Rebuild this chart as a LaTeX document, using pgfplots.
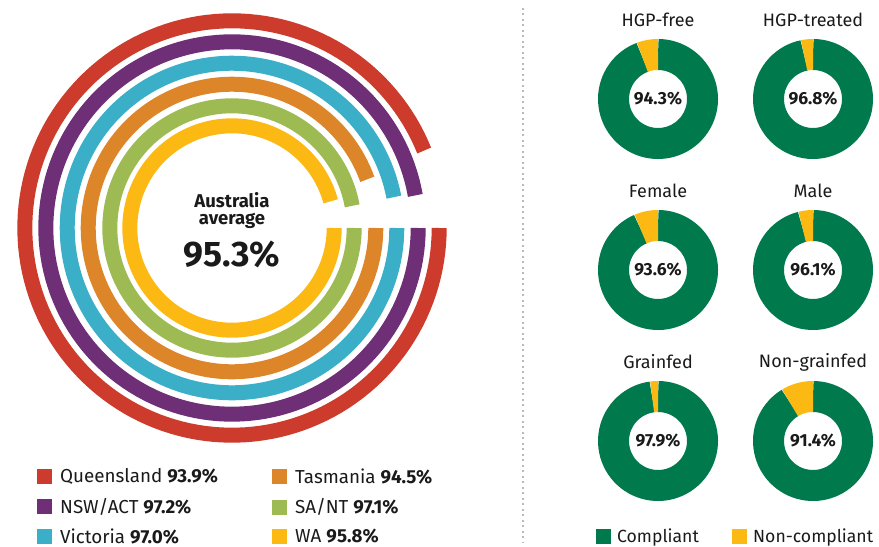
\documentclass[border=0pt]{standalone}
\usepackage{fontspec}
\setmainfont{Fira Sans}
\usepackage{pgfplots}
\pgfplotsset{compat=1.18}
\definecolor{qred}{HTML}{CC3B2B}
\definecolor{qpurple}{HTML}{6E2F77}
\definecolor{qcyan}{HTML}{3BAFC8}
\definecolor{qorange}{HTML}{DD8629}
\definecolor{qgreen}{HTML}{9DBB52}
\definecolor{qyellow}{HTML}{FDB913}
\definecolor{cgreen}{HTML}{007A4D}
\definecolor{txt}{HTML}{1A1A1A}
\pgfplotsset{
  base/.style={width=879bp,height=547bp,scale only axis,
    xmin=0,xmax=879,ymin=0,ymax=547,y dir=reverse,hide axis,clip=false,
    at={(0,0)},anchor=south west},
  sqlegend/.style={
    legend image code/.code={\fill[##1,draw=none] (0bp,-7.5bp) rectangle (15bp,7.5bp);},
    legend cell align=left,
    legend style={draw=none,fill=none,inner sep=0pt,text=txt,
      font=\fontsize{18.8bp}{20bp}\selectfont,row sep=14bp,
      nodes={inner sep=0pt},
      /tikz/every odd column/.append style={column sep=8bp}}},
  ring/.style={no markers,line width=15bp,samples=150},
  donut/.style={no markers,line width=31bp,samples=80},
}
\begin{document}
\begin{tikzpicture}
% ---------- left: states (column 1 of legend)
\begin{axis}[base,name=A,sqlegend,
  legend style={at={(axis cs:37,506.5)},anchor=west}]
\addplot[ring,color=qred,domain=0:93.9*3.6] ({232+207.2*cos(x)},{228+207.2*sin(x)});
\addlegendentry{Queensland \textbf{93.9\%}}
\addplot[ring,color=qpurple,domain=0:97.2*3.6] ({232+186.2*cos(x)},{228+186.2*sin(x)});
\addlegendentry{NSW/ACT \textbf{97.2\%}}
\addplot[ring,color=qcyan,domain=0:97.0*3.6] ({232+164.8*cos(x)},{228+164.8*sin(x)});
\addlegendentry{Victoria \textbf{97.0\%}}
\node[text=txt,font=\fontsize{18.5bp}{20bp}\selectfont\bfseries] at (axis cs:232,200) {Australia};
\node[text=txt,font=\fontsize{18.5bp}{20bp}\selectfont\bfseries] at (axis cs:232,221) {average};
\node[text=txt,font=\fontsize{35.5bp}{38bp}\selectfont\bfseries] at (axis cs:232,254) {95.3\%};
\end{axis}
% ---------- left: states (column 2 of legend)
\begin{axis}[base,sqlegend,
  legend style={at={(axis cs:272,506.5)},anchor=west}]
\addplot[ring,color=qorange,domain=0:94.5*3.6] ({232+143.8*cos(x)},{228+143.8*sin(x)});
\addlegendentry{Tasmania \textbf{94.5\%}}
\addplot[ring,color=qgreen,domain=0:97.1*3.6] ({232+122.2*cos(x)},{228+122.2*sin(x)});
\addlegendentry{SA/NT \textbf{97.1\%}}
\addplot[ring,color=qyellow,domain=0:95.8*3.6] ({232+102.2*cos(x)},{228+102.2*sin(x)});
\addlegendentry{WA \textbf{95.8\%}}
\end{axis}
% ---------- right: compliant
\begin{axis}[base,sqlegend,
  legend style={at={(axis cs:596,536.5)},anchor=west,
    font=\fontsize{17.6bp}{19bp}\selectfont,
    /tikz/every odd column/.append style={column sep=6bp}}]
\addplot[gray!55,line width=2bp,dash pattern=on 2bp off 3.5bp,forget plot] coordinates {(523,8) (523,543)};
\addplot[donut,color=cgreen,domain=-90:270-(100-94.3)*3.6] ({658+44.5*cos(x)},{99+44.5*sin(x)});
\addlegendentry{Compliant}
\addplot[donut,color=cgreen,domain=-90:270-(100-96.8)*3.6,forget plot] ({813+44.5*cos(x)},{99+44.5*sin(x)});
\addplot[donut,color=cgreen,domain=-90:270-(100-93.6)*3.6,forget plot] ({658+44.5*cos(x)},{270+44.5*sin(x)});
\addplot[donut,color=cgreen,domain=-90:270-(100-96.1)*3.6,forget plot] ({813+44.5*cos(x)},{270+44.5*sin(x)});
\addplot[donut,color=cgreen,domain=-90:270-(100-97.9)*3.6,forget plot] ({658+44.5*cos(x)},{441+44.5*sin(x)});
\addplot[donut,color=cgreen,domain=-90:270-(100-91.4)*3.6,forget plot] ({813+44.5*cos(x)},{441+44.5*sin(x)});
\foreach \t/\xx/\yy in {HGP-free/658/20,HGP-treated/813/20,Female/658/191,Male/813/191,Grainfed/658/362,Non-grainfed/813/362}{
  \edef\tmp{\noexpand\node[text=txt,font=\noexpand\fontsize{18bp}{20bp}\noexpand\selectfont] at (axis cs:\xx,\yy) {\t};}\tmp
}
\foreach \t/\xx/\yy in {94.3/658/99,96.8/813/99,93.6/658/270,96.1/813/270,97.9/658/441,91.4/813/441}{
  \edef\tmp{\noexpand\node[text=txt,font=\noexpand\fontsize{17.5bp}{18bp}\noexpand\selectfont\noexpand\bfseries] at (axis cs:\xx,\yy) {\t\noexpand\%};}\tmp
}
\end{axis}
% ---------- right: non-compliant
\begin{axis}[base,sqlegend,
  legend style={at={(axis cs:732,536.5)},anchor=west,
    font=\fontsize{17.6bp}{19bp}\selectfont,
    /tikz/every odd column/.append style={column sep=6bp}}]
\addplot[donut,color=qyellow,domain=-90-(100-94.3)*3.6:-90] ({658+44.5*cos(x)},{99+44.5*sin(x)});
\addlegendentry{Non-compliant}
\addplot[donut,color=qyellow,domain=-90-(100-96.8)*3.6:-90,forget plot] ({813+44.5*cos(x)},{99+44.5*sin(x)});
\addplot[donut,color=qyellow,domain=-90-(100-93.6)*3.6:-90,forget plot] ({658+44.5*cos(x)},{270+44.5*sin(x)});
\addplot[donut,color=qyellow,domain=-90-(100-96.1)*3.6:-90,forget plot] ({813+44.5*cos(x)},{270+44.5*sin(x)});
\addplot[donut,color=qyellow,domain=-90-(100-97.9)*3.6:-90,forget plot] ({658+44.5*cos(x)},{441+44.5*sin(x)});
\addplot[donut,color=qyellow,domain=-90-(100-91.4)*3.6:-90,forget plot] ({813+44.5*cos(x)},{441+44.5*sin(x)});
\end{axis}
\pgfresetboundingbox
\path[use as bounding box] (A.south west) rectangle (A.north east);
\end{tikzpicture}
\end{document}
